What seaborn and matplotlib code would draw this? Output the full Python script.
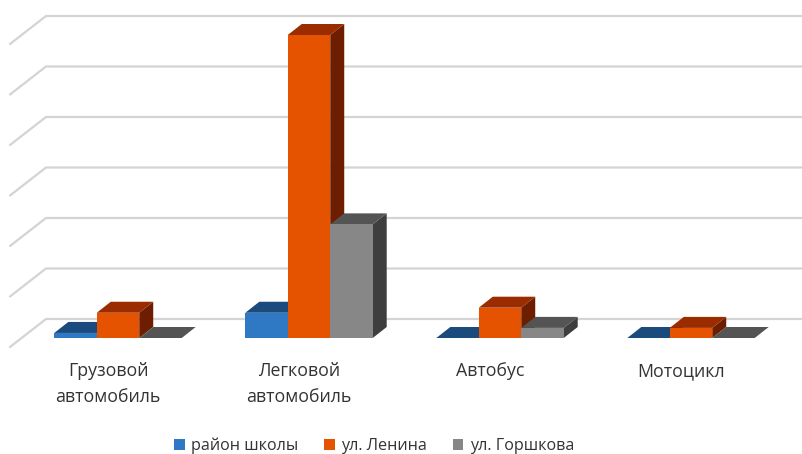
import matplotlib
matplotlib.use("Agg")
import matplotlib.pyplot as plt
import seaborn as sns
import pandas as pd
import numpy as np
from matplotlib.patches import Polygon, Patch

categories = ["Грузовой\nавтомобиль", "Легковой\nавтомобиль", "Автобус", "Мотоцикл"]
series = ["район школы", "ул. Ленина", "ул. Горшкова"]
school = [1, 5, 0, 0]
lenina = [5, 60, 6, 2]
gorshkova = [0, 22.5, 2, 0]

front_colors = ["#2E78C4", "#E65300", "#878787"]
top_colors = ["#1B4A7C", "#9A2C00", "#545454"]
side_colors = ["#163E69", "#6E1E00", "#3E3E3E"]

df = pd.DataFrame({
    "cat": np.repeat(categories, 3),
    "series": series * 4,
    "value": [v for trio in zip(school, lenina, gorshkova) for v in trio],
})

sns.set_theme(style="white")
plt.rcParams["font.family"] = ["Open Sans", "DejaVu Sans"]

fig = plt.figure(figsize=(8.02, 4.54), dpi=100)
ax = fig.add_axes([0, 0, 1, 1])

px_cat = 191.0      # pixels per category
px_val = 5.05       # pixels per value unit
x0_px, y0_px = 118.0, 338.0

sns.barplot(data=df, x="cat", y="value", hue="series", hue_order=series,
            order=categories, palette=front_colors, width=0.667, dodge=True,
            saturation=1, legend=False, ax=ax, errorbar=None)
ax.set_xlim(-x0_px / px_cat, (802 - x0_px) / px_cat)
ax.set_ylim(-(454 - y0_px) / px_val, y0_px / px_val)
ax.set_axis_off()

# depth offsets
dx = 14 / px_cat
dy = 11 / px_val

# back wall gridlines and floor diagonals
back_x = (46 - x0_px) / px_cat
front_x = (10 - x0_px) / px_cat
back_y0 = (y0_px - 319) / px_val
front_y0 = (y0_px - 347) / px_val
right_x = (802 - x0_px) / px_cat
for k in range(7):
    yb = back_y0 + 10 * k
    yf = front_y0 + 10 * k
    ax.plot([front_x, back_x, right_x], [yf, yb, yb], color="#D4D4D4",
            lw=1.6, zorder=0.5, solid_joinstyle="miter")

# 3D faces
n_cat = len(categories)
bars = list(ax.patches)
for j in range(3):
    for i in range(n_cat):
        p = bars[j * n_cat + i]
        x = p.get_x(); w = p.get_width(); h = p.get_height()
        z = 2 + j * 3
        p.set_zorder(z + 2)
        p.set_edgecolor("none")
        top = Polygon([[x, h], [x + w, h], [x + w + dx, h + dy], [x + dx, h + dy]],
                      closed=True, facecolor=top_colors[j], edgecolor="none", zorder=z + 1)
        side = Polygon([[x + w, 0], [x + w + dx, dy], [x + w + dx, h + dy], [x + w, h]],
                       closed=True, facecolor=side_colors[j], edgecolor="none", zorder=z)
        ax.add_patch(top)
        ax.add_patch(side)

# category labels
for i, c in enumerate(categories):
    ax.text(i - 10 / px_cat, (y0_px - 362) / px_val, c, ha="center", va="top",
            fontsize=12.8, color="#333333", linespacing=1.6)

handles = [Patch(facecolor=front_colors[j], edgecolor="none", label=series[j]) for j in range(3)]
fig.legend(handles=handles, loc="center", bbox_to_anchor=(374 / 802, 1 - 446 / 454),
           ncol=3, frameon=False, fontsize=11.6, handlelength=0.65, handleheight=0.65,
           handletextpad=0.4, columnspacing=1.6, labelcolor="#333333")

fig.savefig("out.png", dpi=100)
